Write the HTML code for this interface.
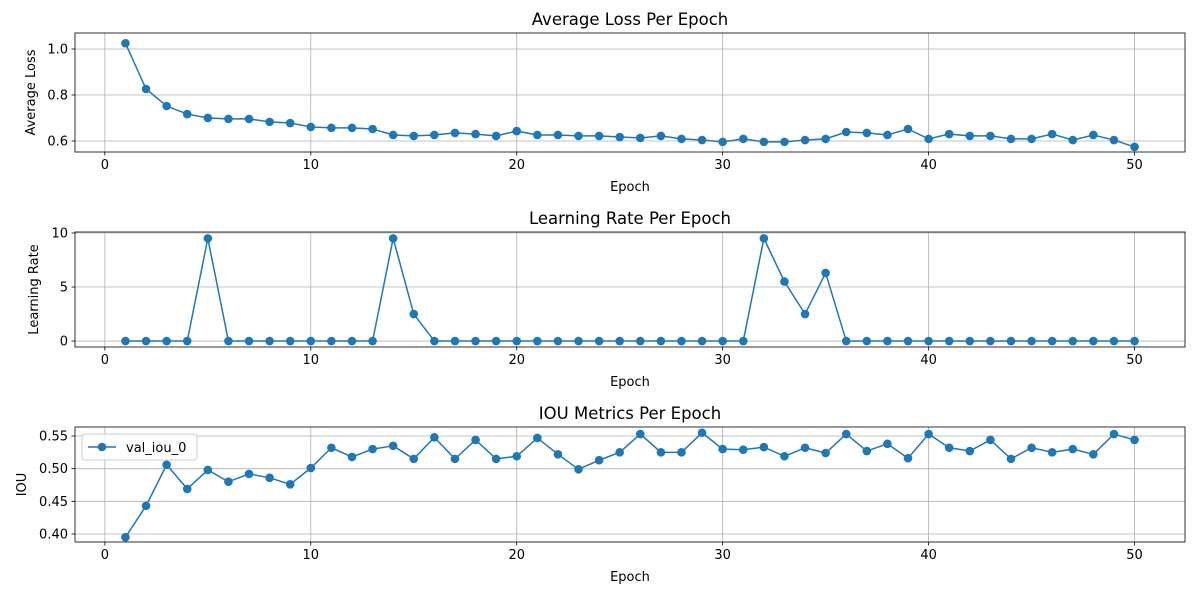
<!DOCTYPE html>
<html><head><meta charset="utf-8"><style>
body{margin:0;background:#fff;}
svg{font-family:"DejaVu Sans","Liberation Sans",sans-serif;}
</style></head><body>
<svg id="c" width="1200" height="600" xmlns="http://www.w3.org/2000/svg"></svg>
<script>
const epochs = Array.from({length:50},(_,i)=>i+1);
const lossValues = [1.025,0.826,0.752,0.717,0.70,0.696,0.696,0.683,0.678,0.661,0.657,0.657,0.652,0.626,0.622,0.626,0.635,0.630,0.622,0.643,0.626,0.626,0.622,0.622,0.617,0.613,0.622,0.609,0.604,0.596,0.609,0.596,0.596,0.604,0.609,0.639,0.635,0.626,0.652,0.609,0.630,0.622,0.622,0.609,0.609,0.630,0.604,0.626,0.604,0.574];
const lrValues = [0,0,0,0,9.5,0,0,0,0,0,0,0,0,9.5,2.5,0,0,0,0,0,0,0,0,0,0,0,0,0,0,0,0,9.5,5.5,2.5,6.3,0,0,0,0,0,0,0,0,0,0,0,0,0,0,0];
const iouValues = [0.395,0.443,0.506,0.469,0.498,0.480,0.492,0.486,0.476,0.501,0.532,0.518,0.530,0.535,0.515,0.548,0.515,0.544,0.515,0.519,0.547,0.522,0.499,0.513,0.525,0.553,0.525,0.525,0.555,0.530,0.529,0.533,0.519,0.532,0.524,0.553,0.527,0.538,0.516,0.553,0.532,0.527,0.544,0.515,0.532,0.525,0.530,0.522,0.553,0.544];
const xTicks = [0,10,20,30,40,50];
const lossTicks = [0.6,0.8,1.0];
const lrTicks = [0,5,10];
const iouTicks = [0.40,0.45,0.50,0.55];

const svg=document.getElementById('c');
const NS='http://www.w3.org/2000/svg';
function mk(tag,attrs,parent){const e=document.createElementNS(NS,tag);for(const k in attrs)e.setAttribute(k,attrs[k]);(parent||svg).appendChild(e);return e;}
const X0=75,X1=1185,XMIN=-1.45,XMAX=52.45;
const sx=v=>X0+(v-XMIN)/(XMAX-XMIN)*(X1-X0);

function panel(cfg){
  const g=mk('g',{});
  
  
  const sy=v=>cfg.y1-(v-cfg.ymin)/(cfg.ymax-cfg.ymin)*(cfg.y1-cfg.y0);
  xTicks.forEach(t=>{mk('line',{x1:sx(t),x2:sx(t),y1:cfg.y0,y2:cfg.y1,stroke:'#b0b0b0','stroke-width':0.8},g);
    mk('line',{x1:sx(t),x2:sx(t),y1:cfg.y1,y2:cfg.y1+3.5,stroke:'#000','stroke-width':0.8},g);
    const tx=mk('text',{x:sx(t),y:cfg.y1+17,'font-size':13,'text-anchor':'middle'},g);tx.textContent=t;
    });
  cfg.ticks.forEach(t=>{mk('line',{x1:X0,x2:X1,y1:sy(t),y2:sy(t),stroke:'#b0b0b0','stroke-width':0.8},g);
    mk('line',{x1:X0-3.5,x2:X0,y1:sy(t),y2:sy(t),stroke:'#000','stroke-width':0.8},g);
    const tx=mk('text',{x:X0-7,y:sy(t)+4.5,'font-size':13,'text-anchor':'end'},g);tx.textContent=cfg.fmt(t);
    });
  const pts=epochs.map((e,i)=>sx(e)+','+sy(cfg.data[i])).join(' ');
  const pl=mk('polyline',{points:pts,fill:'none',stroke:'#1f77b4','stroke-width':1.5},g);
  
  epochs.forEach((e,i)=>{const c=mk('circle',{cx:sx(e),cy:sy(cfg.data[i]),r:4.3,fill:'#1f77b4'},g);
    });
  mk('rect',{x:X0,y:cfg.y0,width:X1-X0,height:cfg.y1-cfg.y0,fill:'none',stroke:'#000','stroke-width':0.8},g);
  const tt=mk('text',{x:(X0+X1)/2,y:cfg.y0-8,'font-size':16.5,'text-anchor':'middle'},g);tt.textContent=cfg.title;
  
  const xl=mk('text',{x:(X0+X1)/2,y:cfg.y1+39,'font-size':13,'text-anchor':'middle'},g);xl.textContent='Epoch';
  
  const cy=(cfg.y0+cfg.y1)/2;
  const yl=mk('text',{x:cfg.ylx,y:cy,'font-size':13,'text-anchor':'middle',transform:`rotate(-90 ${cfg.ylx} ${cy})`},g);yl.textContent=cfg.ylabel;
  
  return g;
}
panel({name:'loss-chart',y0:33,y1:152,ymin:0.552,ymax:1.0696,ticks:lossTicks,fmt:t=>t.toFixed(1),data:lossValues,title:'Average Loss Per Epoch',ylabel:'Average Loss',ylx:35});
panel({name:'lr-chart',y0:232,y1:347,ymin:-0.55,ymax:10.09,ticks:lrTicks,fmt:t=>t,data:lrValues,title:'Learning Rate Per Epoch',ylabel:'Learning Rate',ylx:38});
const g3=panel({name:'iou-chart',y0:427,y1:542,ymin:0.3877,ymax:0.5638,ticks:iouTicks,fmt:t=>t.toFixed(2),data:iouValues,title:'IOU Metrics Per Epoch',ylabel:'IOU',ylx:26});
const lg=mk('g',{},g3);

mk('rect',{x:82,y:434,width:115,height:26,rx:3,fill:'#fff','fill-opacity':0.8,stroke:'#ccc'},lg);
mk('line',{x1:88,x2:116,y1:447,y2:447,stroke:'#1f77b4','stroke-width':1.5},lg);
mk('circle',{cx:102,cy:447,r:4.3,fill:'#1f77b4'},lg);
const lt=mk('text',{x:126,y:452,'font-size':13},lg);lt.textContent='val_iou_0';

</script>
</body></html>
